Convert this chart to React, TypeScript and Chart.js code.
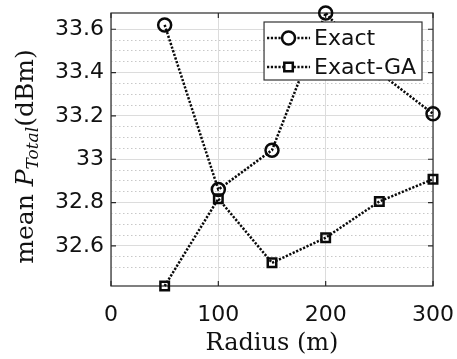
import React, { useEffect, useRef } from 'react';
import { Chart, registerables } from 'chart.js';

Chart.register(...registerables);

const radius = [50, 100, 150, 200, 250, 300];
const exact = [33.62, 32.86, 33.042, 33.675, 33.4, 33.21];
const exactGA = [32.415, 32.818, 32.522, 32.638, 32.805, 32.908];
const seriesNames = ['Exact', 'Exact-GA'];
const xTickStep = 100;
const xMin = 0;
const xMax = 300;
const yMajorStep = 0.2;
const yMinorStep = 0.05;

const isMult = (v: number, s: number) => Math.abs(v / s - Math.round(v / s)) < 1e-6;

const TICK_FONT = "'DejaVu Sans', sans-serif";
const SERIF = "'DejaVu Serif', serif";

const decorPlugin = {
  id: 'decor',
  beforeDatasetsDraw(chart: any) {
    const { ctx, chartArea: ca, scales } = chart;
    ctx.save();
    ctx.strokeStyle = '#2a2a2a';
    ctx.lineWidth = 1.2;
    ctx.setLineDash([]);
    ctx.strokeRect(ca.left, ca.top, ca.right - ca.left, ca.bottom - ca.top);
    const ys = scales.y;
    ys.ticks.forEach((t: any) => {
      if (!isMult(t.value, yMajorStep)) return;
      const py = ys.getPixelForValue(t.value);
      ctx.beginPath();
      ctx.moveTo(ca.left, py);
      ctx.lineTo(ca.left + 5, py);
      ctx.moveTo(ca.right, py);
      ctx.lineTo(ca.right - 5, py);
      ctx.stroke();
    });
    const xs = scales.x;
    xs.ticks.forEach((t: any) => {
      const px = xs.getPixelForValue(t.value);
      ctx.beginPath();
      ctx.moveTo(px, ca.bottom);
      ctx.lineTo(px, ca.bottom - 5);
      ctx.moveTo(px, ca.top);
      ctx.lineTo(px, ca.top + 5);
      ctx.stroke();
    });
    ctx.restore();
  },
  afterDatasetsDraw(chart: any) {
    const { ctx, chartArea: ca } = chart;
    ctx.save();
    ctx.font = `22px ${TICK_FONT}`;
    const textW = Math.max(...seriesNames.map((n) => ctx.measureText(n).width));
    const sampleW = 43;
    const boxW = 3 + sampleW + 4 + textW + 6;
    const right = ca.right - 11;
    const left = right - boxW;
    const top = ca.top + 9;
    const rowH = 29;
    const boxH = 58;
    ctx.fillStyle = '#ffffff';
    ctx.fillRect(left, top, boxW, boxH);
    ctx.strokeStyle = '#333';
    ctx.lineWidth = 1.2;
    ctx.setLineDash([]);
    ctx.strokeRect(left, top, boxW, boxH);
    chart.data.datasets.forEach((ds: any, i: number) => {
      const cy = top + 16 + i * rowH;
      const x0 = left + 3;
      const cx = x0 + sampleW / 2;
      ctx.strokeStyle = ds.borderColor;
      ctx.lineWidth = ds.borderWidth;
      ctx.setLineDash(ds.borderDash);
      ctx.beginPath();
      ctx.moveTo(x0, cy);
      ctx.lineTo(x0 + sampleW, cy);
      ctx.stroke();
      ctx.setLineDash([]);
      ctx.fillStyle = '#ffffff';
      ctx.lineWidth = ds.pointBorderWidth;
      ctx.strokeStyle = ds.pointBorderColor;
      ctx.beginPath();
      if (ds.pointStyle === 'circle') {
        ctx.arc(cx, cy, ds.pointRadius, 0, Math.PI * 2);
      } else {
        const s = ds.pointRadius * Math.SQRT1_2;
        ctx.rect(cx - s, cy - s, 2 * s, 2 * s);
      }
      ctx.fill();
      ctx.stroke();
      ctx.fillStyle = '#111';
      ctx.textBaseline = 'middle';
      ctx.textAlign = 'left';
      ctx.fillText(ds.label, x0 + sampleW + 4, cy + 1);
    });
    ctx.restore();
  },
  afterDraw(chart: any) {
    const { ctx, chartArea: ca } = chart;
    ctx.save();
    ctx.fillStyle = '#111';
    ctx.font = `24px ${SERIF}`;
    ctx.textAlign = 'center';
    ctx.textBaseline = 'alphabetic';
    ctx.fillText('Radius (m)', (ca.left + ca.right) / 2, ca.bottom + 64);
    const segs = [
      { t: 'mean ', f: `25px ${SERIF}`, dy: 0 },
      { t: 'P', f: `italic 25px ${SERIF}`, dy: 0 },
      { t: 'Total', f: `italic 17px ${SERIF}`, dy: 5 },
      { t: '(dBm)', f: `25px ${SERIF}`, dy: 0 },
    ];
    let total = 0;
    const widths = segs.map((s) => {
      ctx.font = s.f;
      const w = ctx.measureText(s.t).width;
      total += w;
      return w;
    });
    ctx.translate(33, (ca.top + ca.bottom) / 2 + 7);
    ctx.rotate(-Math.PI / 2);
    ctx.textAlign = 'left';
    let x = -total / 2;
    segs.forEach((s, i) => {
      ctx.font = s.f;
      ctx.fillText(s.t, x, s.dy);
      x += widths[i];
    });
    ctx.restore();
  },
};

export default function App() {
  const ref = useRef<HTMLCanvasElement | null>(null);
  useEffect(() => {
    if (!ref.current) return;
    const allY = [...exact, ...exactGA];
    const lineStyle = {
      borderColor: '#0a0a0a',
      borderWidth: 2.5,
      borderDash: [2.2, 1.6],
      pointBorderWidth: 2.5,
      pointBorderColor: '#0a0a0a',
      pointBackgroundColor: 'rgba(0,0,0,0)',
      tension: 0,
      clip: false as any,
    };
    const chart = new Chart(ref.current, {
      type: 'line',
      data: {
        datasets: [
          {
            label: seriesNames[0],
            data: radius.map((r, i) => ({ x: r, y: exact[i] })),
            pointStyle: 'circle',
            pointRadius: 6.5,
            ...lineStyle,
          },
          {
            label: seriesNames[1],
            data: radius.map((r, i) => ({ x: r, y: exactGA[i] })),
            pointStyle: 'rect',
            pointRadius: 6,
            ...lineStyle,
          },
        ],
      },
      options: {
        animation: false,
        responsive: true,
        maintainAspectRatio: false,
        layout: { padding: { left: 0, top: 13, right: 24, bottom: 0 } },
        plugins: { legend: { display: false }, tooltip: { enabled: false } },
        scales: {
          x: {
            type: 'linear',
            min: xMin,
            max: xMax,
            ticks: {
              stepSize: xTickStep,
              padding: 16,
              color: '#111',
              font: { family: TICK_FONT, size: 22 },
              maxRotation: 0,
            },
            grid: { color: '#dcdcdc', lineWidth: 1, drawTicks: false },
            border: { display: false },
            afterFit: (s: any) => {
              s.height = 73;
              s.paddingLeft = 0;
              s.paddingRight = 0;
            },
          },
          y: {
            type: 'linear',
            min: Math.min(...allY),
            max: Math.max(...allY),
            ticks: {
              stepSize: yMinorStep,
              autoSkip: false,
              padding: 7,
              color: '#111',
              font: { family: TICK_FONT, size: 22 },
              callback: (v: any) => {
                const n = Number(v);
                return isMult(n, yMajorStep) ? String(Number(n.toFixed(1))) : '';
              },
            },
            grid: {
              drawTicks: false,
              lineWidth: 1,
              color: (c: any) => {
                const v = c.tick ? c.tick.value : 0;
                if (isMult(v, yMajorStep)) return '#dcdcdc';
                if (isMult(v, yMinorStep)) return '#c8c8c8';
                return 'rgba(0,0,0,0)';
              },
            },
            border: {
              display: false,
              dash: (c: any) => {
                const v = c.tick ? c.tick.value : 0;
                return isMult(v, yMajorStep) ? [] : [1.5, 2.5];
              },
            } as any,
            afterFit: (s: any) => {
              s.width = 111;
              s.paddingTop = 0;
              s.paddingBottom = 0;
            },
          },
        },
      },
      plugins: [decorPlugin],
    } as any);
    return () => chart.destroy();
  }, []);
  return (
    <div style={{ position: 'fixed', left: 0, top: 0, width: 457, height: 359, background: '#fff' }}>
      <canvas ref={ref} />
    </div>
  );
}
